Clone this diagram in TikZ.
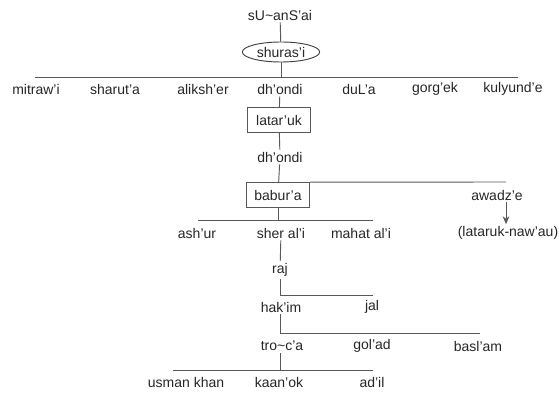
\documentclass[tikz,border=0pt]{standalone}
\usepackage{fontspec}
\setmainfont{Liberation Sans}
\usetikzlibrary{shapes.geometric,arrows.meta}

\begin{document}
\begin{tikzpicture}[x=0.75pt,y=-0.75pt,
    lbl/.style={font=\fontsize{10.5}{12}\selectfont, text=black!85, inner sep=1.5pt},
    boxed/.style={lbl, draw=black!65, line width=0.7pt, minimum width=47pt, minimum height=18.5pt},
    oval/.style={lbl, ellipse, draw=black!75, line width=0.7pt, minimum width=58pt, minimum height=15pt, inner sep=0pt},
    link/.style={draw=black!65, line width=0.7pt}]
    \useasboundingbox (0,0) rectangle (559,395);

    % 祖先
    \node[lbl] (suansai) at (280,15) {sU\textasciitilde anS'ai};
    \node[oval] (shurasi) at (281,52) {shuras'i};
    \draw[link] (suansai) -- (shurasi);

    % 第一代
    \coordinate (rowAl) at (35,77);
    \coordinate (rowAr) at (518,77);
    \draw[link] (rowAl) -- (rowAr);
    \draw[link] (shurasi) -- (shurasi |- rowAl);
    \node[lbl] (mitrawi) at (36,89) {mitraw'i};
    \node[lbl] (sharuta) at (115,89) {sharut'a};
    \node[lbl] (aliksher) at (203,89) {aliksh'er};
    \node[lbl] (dhondi) at (280,89) {dh'ondi};
    \node[lbl] (dula) at (359,89) {duL'a};
    \node[lbl] (gorgek) at (435,89) {gorg'ek};
    \node[lbl] (kulyunde) at (513,89) {kulyund'e};

    \node[boxed] (lataruk) at (279,120) {latar'uk};
    \node[lbl] (dhondib) at (280,157) {dh'ondi};
    \node[boxed] (babura) at (278,195) {babur'a};
    \draw[link] (dhondi) -- (lataruk);
    \draw[link] (lataruk) -- (dhondib);
    \draw[link] (dhondib) -- (babura);

    % awadz'e
    \coordinate (awend) at (506,182);
    \draw[link] (babura.north east) -- (awend);
    \node[lbl] (awadze) at (497,195) {awadz'e};
    \node[lbl] (nawau) at (508,233) {(lataruk-naw'au)};
    \draw[link,-{Stealth[length=6pt,width=5pt]}] (awadze.south -| awend) -- (nawau.north -| awend);

    % babur'a 之子
    \coordinate (rowBl) at (198,220);
    \coordinate (rowBr) at (373,220);
    \draw[link] (rowBl) -- (rowBr);
    \draw[link] (babura) -- (babura |- rowBl);
    \node[lbl] (ashur) at (197,233) {ash'ur};
    \node[lbl] (sherali) at (281,233) {sher al'i};
    \node[lbl] (mahatali) at (361,233) {mahat al'i};

    \node[lbl] (raj) at (280,270) {raj};
    \draw[link] (sherali) -- (raj);

    \coordinate (rowCr) at (373,295);
    \draw[link] (raj) |- (rowCr);
    \node[lbl] (hakim) at (281,307) {hak'im};
    \node[lbl] (jal) at (372,307) {jal};

    \coordinate (rowDr) at (480,333);
    \draw[link] (hakim.south -| raj) |- (rowDr);
    \node[lbl] (troca) at (282,346) {tro\textasciitilde c'a};
    \node[lbl] (golad) at (372,346) {gol'ad};
    \node[lbl] (baslam) at (478,346) {basl'am};

    \coordinate (rowEl) at (173,370);
    \coordinate (rowEr) at (373,370);
    \draw[link] (rowEl) -- (rowEr);
    \draw[link] (troca.south -| raj) -- (raj |- rowEl);
    \node[lbl] (usman) at (186,382) {usman khan};
    \node[lbl] (kaanok) at (279,382) {kaan'ok};
    \node[lbl] (adil) at (372,382) {ad'il};
\end{tikzpicture}
\end{document}
